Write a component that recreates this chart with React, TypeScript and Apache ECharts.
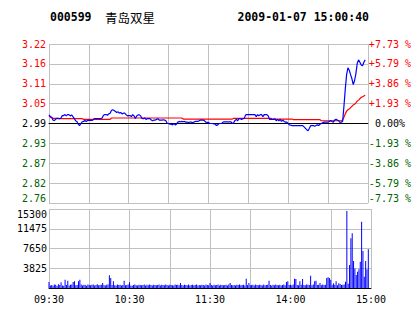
import React, { useEffect, useRef } from "react";
import * as echarts from "echarts";

const stockCode = "000599";
const stockName = "青岛双星";
const stampText = "2009-01-07 15:00:40";
const prevClose = 2.99;
const pctMax = 7.73;

const priceTicks = ["2.76", "2.82", "2.87", "2.93", "2.99", "3.05", "3.11", "3.16", "3.22"];
const pctTicks = ["-7.73 %", "-5.79 %", "-3.86 %", "-1.93 %", "\u00a00.00%", "+1.93 %", "+3.86 %", "+5.79 %", "+7.73 %"];
const volTicks = ["", "3825", "7650", "11475", "15300"];
const timeLabels = ["09:30", "10:30", "11:30", "14:00", "15:00"];

const priceValues = [
  3.015, 3.010, 3.008, 3.000, 2.999, 3.002, 3.005, 3.005, 3.004, 3.006,
  3.013, 3.013, 3.016, 3.012, 3.016, 3.016, 3.012, 3.015, 3.010, 3.005,
  2.998, 2.996, 2.988, 2.984, 2.990, 2.995, 2.996, 2.999, 2.996, 2.999,
  3.000, 2.999, 2.999, 3.000, 3.004, 3.004, 3.004, 3.004, 3.004, 3.004,
  3.006, 3.014, 3.016, 3.016, 3.014, 3.018, 3.020, 3.028, 3.030, 3.028,
  3.025, 3.022, 3.024, 3.020, 3.022, 3.018, 3.020, 3.020, 3.016, 3.012,
  3.013, 3.013, 3.010, 3.016, 3.012, 3.005, 3.012, 3.015, 3.015, 3.012,
  3.005, 3.004, 3.006, 3.002, 3.004, 3.004, 3.004, 3.000, 2.998, 3.000,
  3.000, 3.002, 3.004, 3.000, 3.000, 3.000, 3.001, 3.000, 2.998, 2.990,
  2.990, 2.988, 2.988, 2.986, 2.990, 2.986, 2.988, 2.994, 2.996, 2.995,
  2.996, 2.995, 2.996, 2.994, 2.994, 2.993, 2.994, 2.994, 2.993, 2.994,
  2.996, 2.996, 2.996, 2.998, 3.000, 3.000, 3.000, 2.998, 2.994, 2.993,
  2.993, 2.990, 2.990, 2.990, 2.989, 2.989, 2.984, 2.986, 2.990, 2.990,
  2.990, 2.994, 2.995, 2.995, 2.995, 2.995, 2.995, 2.995, 2.990, 2.992,
  2.999, 3.002, 2.998, 3.004, 3.004, 3.002, 3.004, 3.005, 3.015, 3.016,
  3.016, 3.016, 3.016, 3.016, 3.016, 3.016, 3.010, 3.016, 3.012, 3.016,
  3.016, 3.010, 3.016, 3.016, 3.016, 3.012, 3.002, 3.002, 3.002, 3.002,
  3.004, 2.998, 3.002, 2.998, 3.002, 2.996, 3.000, 2.996, 2.994, 2.994,
  2.990, 2.986, 2.985, 2.984, 2.984, 2.984, 2.984, 2.984, 2.984, 2.984,
  2.984, 2.984, 2.980, 2.976, 2.972, 2.969, 2.976, 2.984, 2.984, 2.984,
  2.982, 2.984, 2.986, 2.984, 2.988, 2.990, 2.992, 2.994, 2.994, 2.994,
  2.994, 2.996, 2.999, 2.996, 2.994, 3.000, 3.002, 3.000, 2.998, 2.993,
  2.994, 2.996, 3.040, 3.090, 3.132, 3.152, 3.145, 3.132, 3.120, 3.103,
  3.115, 3.135, 3.165, 3.175, 3.168, 3.160, 3.158, 3.168, 3.175,
];

const avgValues = [
  3.012, 3.009, 3.007, 3.005, 3.005, 3.005, 3.005, 3.004, 3.004, 3.004,
  3.004, 3.004, 3.004, 3.004, 3.004, 3.004, 3.004, 3.004, 3.004, 3.004,
  3.004, 3.004, 3.004, 3.004, 3.004, 3.004, 3.002, 3.002, 3.002, 3.002,
  3.002, 3.002, 3.002, 3.002, 3.002, 3.002, 3.002, 3.002, 3.002, 3.002,
  3.002, 3.002, 3.002, 3.002, 3.002, 3.002, 3.002, 3.006, 3.006, 3.006,
  3.006, 3.006, 3.006, 3.006, 3.006, 3.006, 3.006, 3.006, 3.006, 3.006,
  3.006, 3.006, 3.006, 3.006, 3.006, 3.006, 3.006, 3.006, 3.006, 3.006,
  3.006, 3.006, 3.006, 3.006, 3.006, 3.006, 3.006, 3.006, 3.006, 3.006,
  3.006, 3.006, 3.006, 3.006, 3.006, 3.006, 3.006, 3.006, 3.006, 3.006,
  3.006, 3.006, 3.006, 3.006, 3.006, 3.006, 3.006, 3.006, 3.006, 3.006,
  3.006, 3.003, 3.003, 3.003, 3.003, 3.003, 3.003, 3.003, 3.003, 3.003,
  3.003, 3.003, 3.003, 3.003, 3.003, 3.003, 3.003, 3.003, 3.003, 3.003,
  3.003, 3.003, 3.003, 3.003, 3.003, 3.003, 3.003, 3.003, 3.003, 3.003,
  3.003, 3.003, 3.003, 3.003, 3.003, 3.003, 3.003, 3.003, 3.003, 3.005,
  3.005, 3.005, 3.005, 3.005, 3.005, 3.005, 3.005, 3.005, 3.005, 3.005,
  3.005, 3.005, 3.005, 3.005, 3.005, 3.005, 3.005, 3.005, 3.005, 3.005,
  3.005, 3.005, 3.005, 3.005, 3.005, 3.005, 3.005, 3.005, 3.003, 3.003,
  3.003, 3.003, 3.003, 3.003, 3.003, 3.003, 3.003, 3.003, 3.003, 3.003,
  3.003, 3.003, 3.003, 3.003, 3.001, 3.001, 3.001, 3.001, 3.001, 3.001,
  3.001, 3.001, 3.001, 3.001, 3.001, 3.001, 3.001, 3.001, 3.001, 3.001,
  3.001, 3.001, 3.001, 3.001, 3.001, 2.998, 2.998, 2.998, 2.998, 2.998,
  2.998, 2.998, 2.998, 2.998, 2.998, 2.998, 2.998, 2.998, 2.998, 2.998,
  2.998, 3.000, 3.008, 3.018, 3.026, 3.030, 3.032, 3.036, 3.040, 3.044,
  3.046, 3.050, 3.055, 3.058, 3.062, 3.066, 3.068, 3.070, 3.072,
];

const volumeValues = [
  1160, 500, 600, 450, 700, 650, 400, 750, 600, 1100,
  500, 450, 1610, 600, 1420, 500, 650, 700, 1160, 1290,
  550, 600, 1290, 1610, 700, 500, 650, 600, 450, 700,
  600, 550, 650, 700, 500, 600, 750, 550, 600, 650,
  970, 600, 500, 650, 700, 2450, 1940, 600, 1290, 550,
  500, 700, 600, 650, 500, 600, 1420, 550, 600, 700,
  1100, 500, 450, 600, 700, 550, 500, 650, 600, 550,
  600, 700, 500, 650, 550, 700, 600, 500, 650, 600,
  550, 600, 700, 500, 650, 600, 550, 700, 600, 500,
  650, 600, 550, 500, 700, 600, 650, 550, 970, 600,
  500, 650, 600, 550, 700, 500, 600, 650, 550, 600,
  700, 500, 600, 550, 650, 600, 500, 700, 600, 550,
  970, 600, 500, 650, 550, 600, 700, 500, 650, 600,
  550, 600, 650, 500, 700, 970, 600, 550, 600, 500,
  650, 600, 700, 550, 600, 650, 500, 1810, 600, 970,
  550, 600, 650, 500, 700, 600, 550, 650, 600, 500,
  700, 550, 600, 650, 1420, 600, 500, 650, 550, 700,
  600, 550, 650, 500, 600, 700, 550, 1160, 1290, 600,
  650, 550, 700, 1810, 1740, 600, 550, 1290, 650, 1740,
  600, 550, 700, 650, 600, 2390, 550, 700, 1290, 1420,
  600, 650, 970, 550, 700, 600, 650, 1940, 2070, 1940,
  1610, 600, 900, 650, 1290, 550, 900, 770, 600, 650,
  700, 1200, 14900, 800, 4450, 9620, 10600, 5230, 3800, 2500,
  3160, 3620, 5100, 12840, 7170, 2190, 5230, 3620, 7490,
];

const MONO = '"DejaVu Sans Mono", monospace';
const GRID_GRAY = "#c0c0c0";
const RED = "#ff0000";
const GREEN = "#006400";

export default function App() {
  const ref = useRef<HTMLDivElement>(null);

  useEffect(() => {
    if (!ref.current) return;
    const chart = echarts.init(ref.current, null, { renderer: "svg" });
    const step = (prevClose * pctMax) / 100 / 4;
    const toStep = (p: number) => (p - prevClose) / step;

    const priceData = priceValues.map((v, i) => [i, toStep(v)]);
    const avgData = avgValues.map((v, i) => [i, toStep(v)]);
    const volData = volumeValues.map((v, i) => [i, v]);

    const rich = {
      r: { color: RED, fontFamily: MONO, fontSize: 10 },
      k: { color: "#000", fontFamily: MONO, fontSize: 10 },
      g: { color: GREEN, fontFamily: MONO, fontSize: 10 },
    };
    const styleKey = (i: number) => (i < 4 ? "g" : i === 4 ? "k" : "r");

    const xCommon = {
      type: "value",
      min: 0,
      max: 240,
      interval: 30,
      axisTick: { show: false },
      splitLine: { show: true, lineStyle: { color: GRID_GRAY, width: 1 } },
    };

    chart.setOption({
      animation: false,
      backgroundColor: "#ffffff",
      grid: [
        { left: 49, right: 43, top: 44, height: 159 },
        { left: 49, right: 43, top: 209, height: 79 },
      ],
      xAxis: [
        {
          ...xCommon,
          gridIndex: 0,
          axisLabel: { show: false },
          axisLine: { show: true, lineStyle: { color: "#000", width: 1 } },
        },
        {
          ...xCommon,
          gridIndex: 1,
          axisLine: { show: true, lineStyle: { color: "#000", width: 1 } },
          axisLabel: {
            show: true,
            margin: 6,
            color: "#000",
            fontFamily: MONO,
            fontSize: 10,
            formatter: (v: number) => (v % 60 === 0 ? timeLabels[v / 60] : ""),
          },
        },
      ],
      yAxis: [
        {
          type: "value",
          gridIndex: 0,
          min: -4,
          max: 4,
          interval: 1,
          axisLine: { show: false },
          axisTick: { show: false },
          splitLine: { show: true, lineStyle: { color: GRID_GRAY, width: 1 } },
          axisLabel: {
            margin: 3,
            verticalAlignMinLabel: "bottom",
            formatter: (v: number) => {
              const i = Math.round(v) + 4;
              return `{${styleKey(i)}|${priceTicks[i]}}`;
            },
            rich,
          },
        },
        {
          type: "value",
          gridIndex: 0,
          position: "right",
          min: -4,
          max: 4,
          interval: 1,
          axisLine: { show: false },
          axisTick: { show: false },
          splitLine: { show: false },
          axisLabel: {
            margin: 1,
            verticalAlignMinLabel: "bottom",
            formatter: (v: number) => {
              const i = Math.round(v) + 4;
              return `{${styleKey(i)}|${pctTicks[i]}}`;
            },
            rich,
          },
        },
        {
          type: "value",
          gridIndex: 1,
          min: 0,
          max: 15300,
          interval: 3825,
          axisLine: { show: false },
          axisTick: { show: false },
          splitLine: { show: true, lineStyle: { color: GRID_GRAY, width: 1 } },
          axisLabel: {
            margin: 2,
            color: "#000",
            fontFamily: MONO,
            fontSize: 10,
            verticalAlignMaxLabel: "top",
            formatter: (v: number) => volTicks[Math.round(v / 3825)] || "",
          },
        },
      ],
      series: [
        {
          type: "line",
          xAxisIndex: 0,
          yAxisIndex: 0,
          data: avgData,
          showSymbol: false,
          symbol: "none",
          lineStyle: { color: RED, width: 1.2 },
          silent: true,
          z: 3,
        },
        {
          type: "line",
          xAxisIndex: 0,
          yAxisIndex: 0,
          data: priceData,
          showSymbol: false,
          symbol: "none",
          lineStyle: { color: "#0000ff", width: 1.2 },
          silent: true,
          z: 4,
          markLine: {
            silent: true,
            symbol: ["none", "none"],
            label: { show: false },
            lineStyle: { color: "#000", type: "solid", width: 1 },
            data: [{ yAxis: 0 }],
            z: 2,
          },
        },
        {
          type: "bar",
          xAxisIndex: 1,
          yAxisIndex: 2,
          data: volData,
          barWidth: 1,
          itemStyle: { color: "#0000ff" },
          silent: true,
        },
      ],
      graphic: [
        {
          type: "text",
          x: 50,
          y: 17,
          style: { text: stockCode, fill: "#000", fontFamily: MONO, fontSize: 11.5, fontWeight: "bold", verticalAlign: "middle" },
        },
        {
          type: "text",
          x: 105,
          y: 17,
          style: { text: stockName, fill: "#000", fontFamily: '"Noto Sans CJK SC"', fontSize: 12.5, verticalAlign: "middle" },
        },
        {
          type: "text",
          x: 237.5,
          y: 17,
          style: { text: stampText, fill: "#000", fontFamily: MONO, fontSize: 11.5, fontWeight: "bold", verticalAlign: "middle" },
        },
      ],
    });

    return () => chart.dispose();
  }, []);

  return (
    <div
      ref={ref}
      style={{ position: "fixed", left: 0, top: 0, width: 414, height: 314, background: "#fff" }}
    />
  );
}
